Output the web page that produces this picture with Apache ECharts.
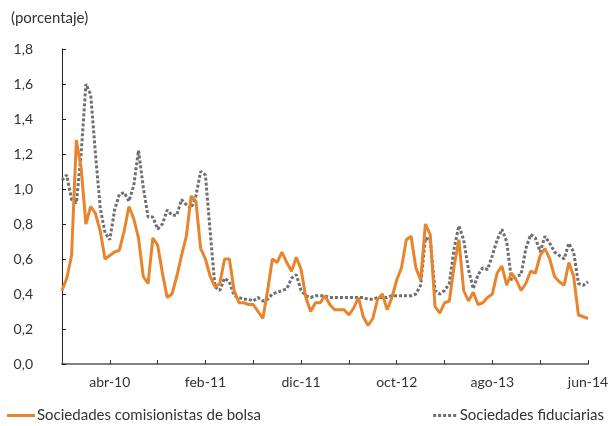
<!DOCTYPE html>
<html>
<head>
<meta charset="utf-8">
<script src="https://cdn.jsdelivr.net/npm/echarts@6/dist/echarts.min.js"></script>
<style>html,body{margin:0;padding:0;background:#fff}#c{width:613px;height:426px}</style>
</head>
<body>
<div id="c"></div>
<script>
// Half-month observations from nov-09 to jun-14
const monthNames = ["ene","feb","mar","abr","may","jun","jul","ago","sep","oct","nov","dic"];
const startYear = 2009, startMonth = 10; // nov-09
const nPoints = 111;
const yTicks = [0,0.2,0.4,0.6,0.8,1.0,1.2,1.4,1.6,1.8];
const xTickLabels = ["abr-10","feb-11","dic-11","oct-12","ago-13","jun-14"];

const comisionistas = [
0.42,0.49,0.62,1.28,1.12,0.80,0.90,0.86,0.76,0.60,
0.62,0.64,0.65,0.76,0.90,0.83,0.72,0.50,0.46,0.72,
0.68,0.52,0.38,0.40,0.50,0.62,0.73,0.96,0.93,0.66,
0.60,0.50,0.44,0.46,0.60,0.60,0.42,0.35,0.35,0.34,
0.34,0.30,0.26,0.42,0.60,0.58,0.64,0.58,0.53,0.61,
0.54,0.38,0.30,0.35,0.35,0.39,0.34,0.31,0.31,0.31,
0.28,0.32,0.38,0.27,0.22,0.26,0.37,0.40,0.31,0.38,
0.48,0.55,0.71,0.73,0.55,0.48,0.80,0.74,0.33,0.29,
0.35,0.36,0.56,0.71,0.42,0.36,0.41,0.34,0.35,0.38,
0.40,0.52,0.56,0.45,0.52,0.48,0.42,0.46,0.53,0.52,
0.62,0.66,0.60,0.50,0.47,0.45,0.58,0.50,0.28,0.27,
0.26];

const fiduciarias = [
1.05,1.08,0.94,0.92,1.20,1.60,1.54,1.20,0.89,0.75,
0.71,0.88,0.97,0.98,0.93,1.02,1.22,1.01,0.84,0.84,
0.77,0.80,0.88,0.85,0.85,0.94,0.91,0.89,0.96,1.10,
1.08,0.75,0.44,0.42,0.49,0.47,0.39,0.38,0.37,0.37,
0.36,0.38,0.36,0.37,0.40,0.41,0.42,0.43,0.49,0.51,
0.42,0.39,0.38,0.39,0.39,0.39,0.38,0.38,0.38,0.38,
0.38,0.38,0.38,0.38,0.37,0.37,0.38,0.38,0.38,0.39,
0.39,0.39,0.39,0.39,0.40,0.45,0.72,0.71,0.42,0.40,
0.42,0.46,0.66,0.79,0.71,0.54,0.43,0.51,0.55,0.54,
0.62,0.71,0.77,0.70,0.48,0.50,0.51,0.66,0.74,0.72,
0.64,0.73,0.69,0.64,0.62,0.60,0.69,0.64,0.46,0.45,
0.47];

const categories = [];
for (let i = 0; i < nPoints; i++) {
  const m = startMonth + Math.floor(i / 2);
  const y = startYear + Math.floor(m / 12);
  const name = monthNames[m % 12] + "-" + String(y % 100).padStart(2, "0");
  categories.push(i % 2 === 0 ? name : "15-" + name);
}

const FONT = "Lato";
const ORANGE = '#E8842C', GRAY = '#6E6F72';
const dottedIcon = 'path://M0,0h3v3h-3z M5,0h3v3h-3z M10,0h3v3h-3z M15,0h3v3h-3z M20,0h3v3h-3z';
const chart = echarts.init(document.getElementById('c'), null, {renderer: 'canvas'});
chart.setOption({
  animation: false,
  backgroundColor: '#fff',
  textStyle: {fontFamily: FONT},
  title: {
    text: '(porcentaje)', left: 6, top: 6,
    textStyle: {fontFamily: FONT, fontSize: 15, fontWeight: 'normal', color: '#333'}
  },
  grid: {left: 62, right: 25, top: 49, bottom: 62, containLabel: false},
  legend: [
    {data: [{name: 'Sociedades comisionistas de bolsa', icon: 'rect'}], left: 2, top: 403, itemWidth: 28, itemHeight: 3, itemGap: 4,
     itemStyle: {color: ORANGE},
     textStyle: {fontFamily: FONT, fontSize: 15, color: '#333', padding: [0,0,0,-3]}},
    {data: [{name: 'Sociedades fiduciarias', icon: dottedIcon}], right: 4, top: 403, itemWidth: 24, itemHeight: 3, itemGap: 4,
     itemStyle: {color: GRAY},
     textStyle: {fontFamily: FONT, fontSize: 15, color: '#333', padding: [0,0,0,-2]}}
  ],
  xAxis: {
    type: 'category', data: categories, boundaryGap: false,
    axisLine: {lineStyle: {color: '#808080', width: 2}},
    axisTick: {inside: true, length: 4, lineStyle: {color: '#333'}, interval: (i) => i % 10 === 0},
    axisLabel: {interval: (i) => i % 20 === 10, margin: 11, fontFamily: FONT, fontSize: 14, color: '#333',
      formatter: (v) => xTickLabels.includes(v) ? v : ''},
    splitLine: {show: false}
  },
  yAxis: {
    type: 'value', min: yTicks[0], max: yTicks[yTicks.length-1], interval: 0.2,
    axisLine: {show: true, lineStyle: {color: '#222', width: 1}},
    axisTick: {show: true, inside: true, length: 4, lineStyle: {color: '#222'}},
    axisLabel: {margin: 29, fontFamily: FONT, fontSize: 14, color: '#333',
      formatter: (v) => v.toFixed(1).replace('.', ',')},
    splitLine: {show: false}
  },
  series: [
    {name: 'Sociedades comisionistas de bolsa', type: 'line', data: comisionistas, symbol: 'none',
     lineStyle: {color: ORANGE, width: 3}, itemStyle: {color: ORANGE}, z: 3},
    {name: 'Sociedades fiduciarias', type: 'line', data: fiduciarias, symbol: 'none',
     lineStyle: {color: GRAY, width: 3, type: [3, 2]}, itemStyle: {color: GRAY}, z: 2}
  ]
});
</script>
</body>
</html>
